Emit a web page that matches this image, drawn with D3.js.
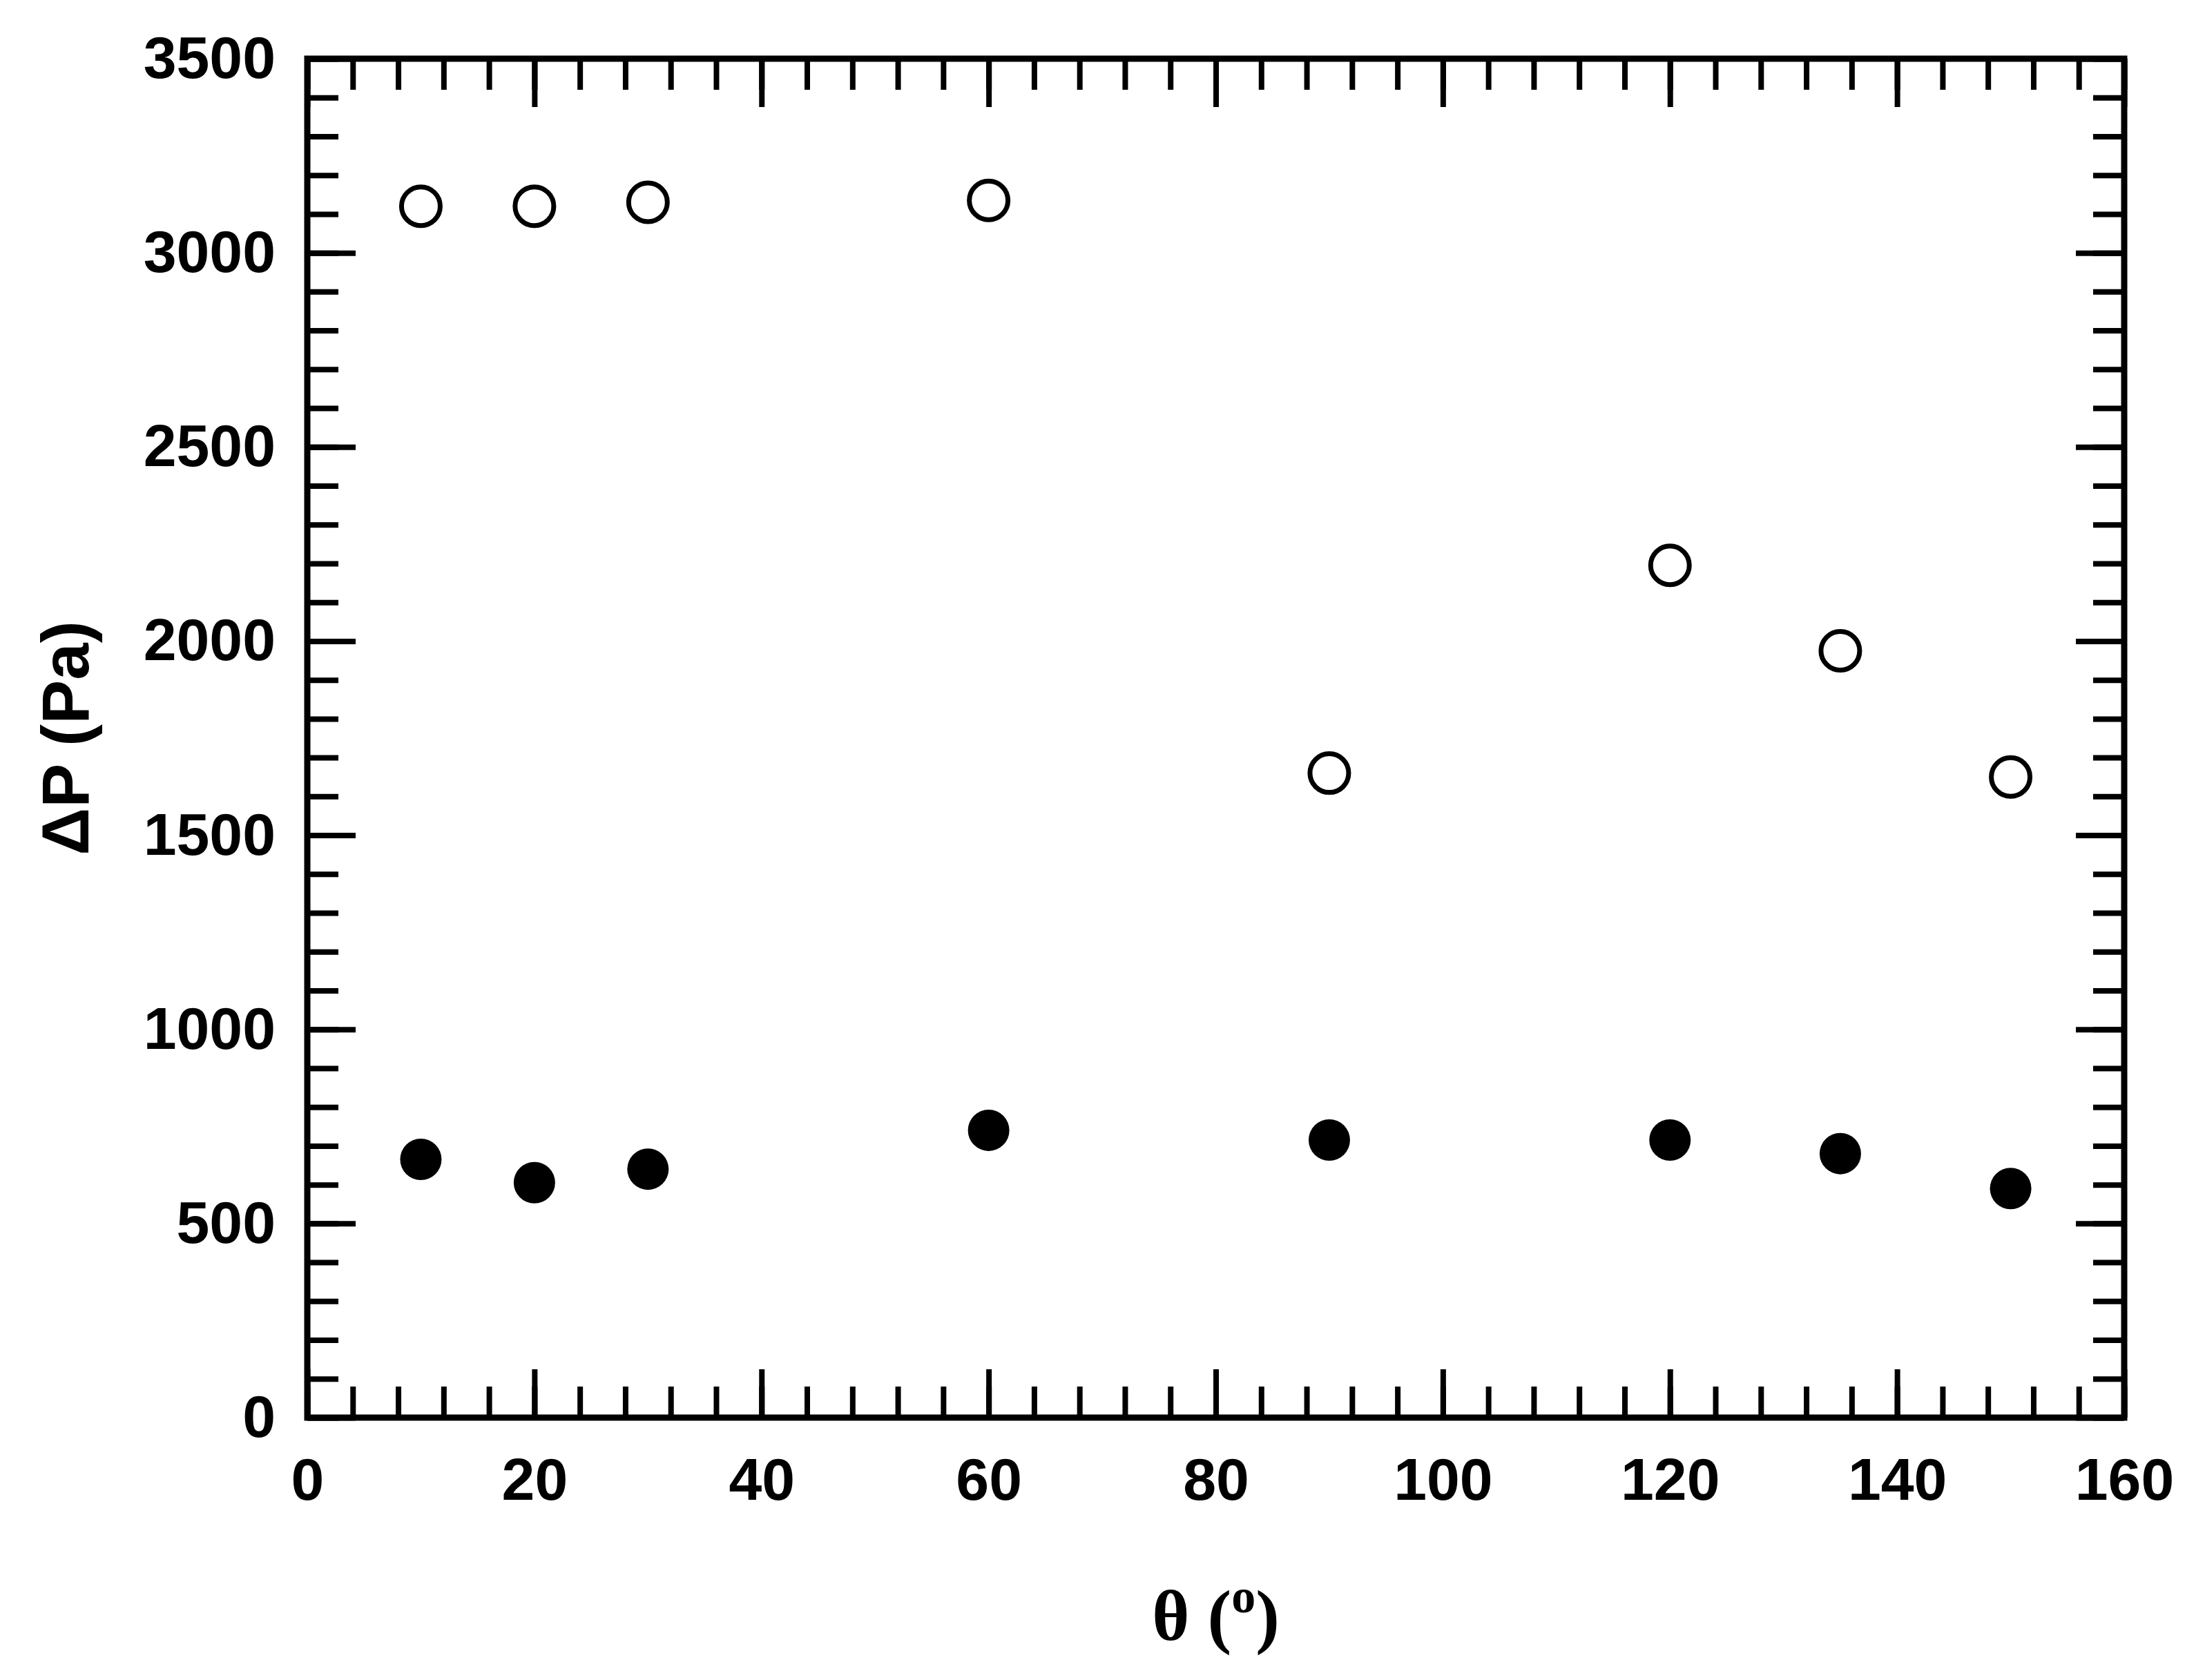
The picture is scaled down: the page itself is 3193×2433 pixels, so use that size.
<!DOCTYPE html>
<html><head><meta charset="utf-8">
<script src="https://cdn.jsdelivr.net/npm/d3@7"></script>
<style>body{margin:0;background:#fff}</style></head>
<body><svg id="c" width="3193" height="2433"></svg>
<script>
// data
var theta = [10, 20, 30, 60, 90, 120, 135, 150];
var openVals = [3120, 3120, 3130, 3135, 1660, 2195, 1975, 1650];
var filledVals = [665, 605, 640, 740, 715, 715, 680, 590];
var xTicks = [0, 20, 40, 60, 80, 100, 120, 140, 160];
var yTicks = [0, 500, 1000, 1500, 2000, 2500, 3000, 3500];

var svg = d3.select('#c');
var L = 445, R = 3076, T = 85, B = 2053;
var x = d3.scaleLinear().domain([0, 160]).range([L, R]);
var y = d3.scaleLinear().domain([0, 3500]).range([B, T]);
var font = '"Liberation Sans", Arial, sans-serif';

function ticks(axis, g) {
  g.call(axis);
  g.select('.domain').remove();
  g.selectAll('line').attr('stroke', '#000').attr('stroke-width', 8);
  g.selectAll('text').attr('font-family', font).attr('font-weight', 'bold')
    .attr('font-size', 86).attr('fill', '#000');
}
var minorX = d3.range(0, 161, 4), minorY = d3.range(0, 3501, 100);

// minor ticks, all four sides, pointing inward
ticks(d3.axisBottom(x).tickValues(minorX).tickSize(-45).tickFormat(''), svg.append('g').attr('transform', 'translate(0,' + B + ')'));
ticks(d3.axisTop(x).tickValues(minorX).tickSize(-45).tickFormat(''), svg.append('g').attr('transform', 'translate(0,' + T + ')'));
ticks(d3.axisLeft(y).tickValues(minorY).tickSize(-45).tickFormat(''), svg.append('g').attr('transform', 'translate(' + L + ',0)'));
ticks(d3.axisRight(y).tickValues(minorY).tickSize(-45).tickFormat(''), svg.append('g').attr('transform', 'translate(' + R + ',0)'));
// major ticks
ticks(d3.axisBottom(x).tickValues(xTicks).tickSize(-70).tickPadding(58).tickFormat(d3.format('d')), svg.append('g').attr('transform', 'translate(0,' + B + ')'));
ticks(d3.axisTop(x).tickValues(xTicks).tickSize(-70).tickFormat(''), svg.append('g').attr('transform', 'translate(0,' + T + ')'));
ticks(d3.axisLeft(y).tickValues(yTicks).tickSize(-70).tickPadding(46).tickFormat(d3.format('d')), svg.append('g').attr('transform', 'translate(' + L + ',0)'));
ticks(d3.axisRight(y).tickValues(yTicks).tickSize(-70).tickFormat(''), svg.append('g').attr('transform', 'translate(' + R + ',0)'));

svg.append('rect').attr('x', L).attr('y', T).attr('width', R - L).attr('height', B - T)
  .attr('fill', 'none').attr('stroke', '#000').attr('stroke-width', 9);

svg.append('g').selectAll('circle').data(theta).join('circle')
  .attr('cx', function(d) { return x(d); })
  .attr('cy', function(d, i) { return y(openVals[i]); })
  .attr('r', 28).attr('fill', '#fff').attr('stroke', '#000').attr('stroke-width', 7);
svg.append('g').selectAll('circle').data(theta).join('circle')
  .attr('cx', function(d) { return x(d); })
  .attr('cy', function(d, i) { return y(filledVals[i]); })
  .attr('r', 30).attr('fill', '#000');

svg.append('text').attr('transform', 'translate(128,' + (T + B) / 2 + ') rotate(-90)')
  .attr('text-anchor', 'middle').attr('font-family', font).attr('font-weight', 'bold')
  .attr('font-size', 96).text('ΔP (Pa)');
var xl = svg.append('text').attr('x', (L + R) / 2).attr('y', 2375).attr('text-anchor', 'middle')
  .attr('font-family', '"Liberation Serif", "Times New Roman", serif').attr('font-weight', 'bold')
  .attr('font-size', 104);
xl.append('tspan').text('θ (');
xl.append('tspan').attr('dy', -40).attr('font-size', 70).text('o');
xl.append('tspan').attr('dy', 40).text(')');
</script></body></html>
